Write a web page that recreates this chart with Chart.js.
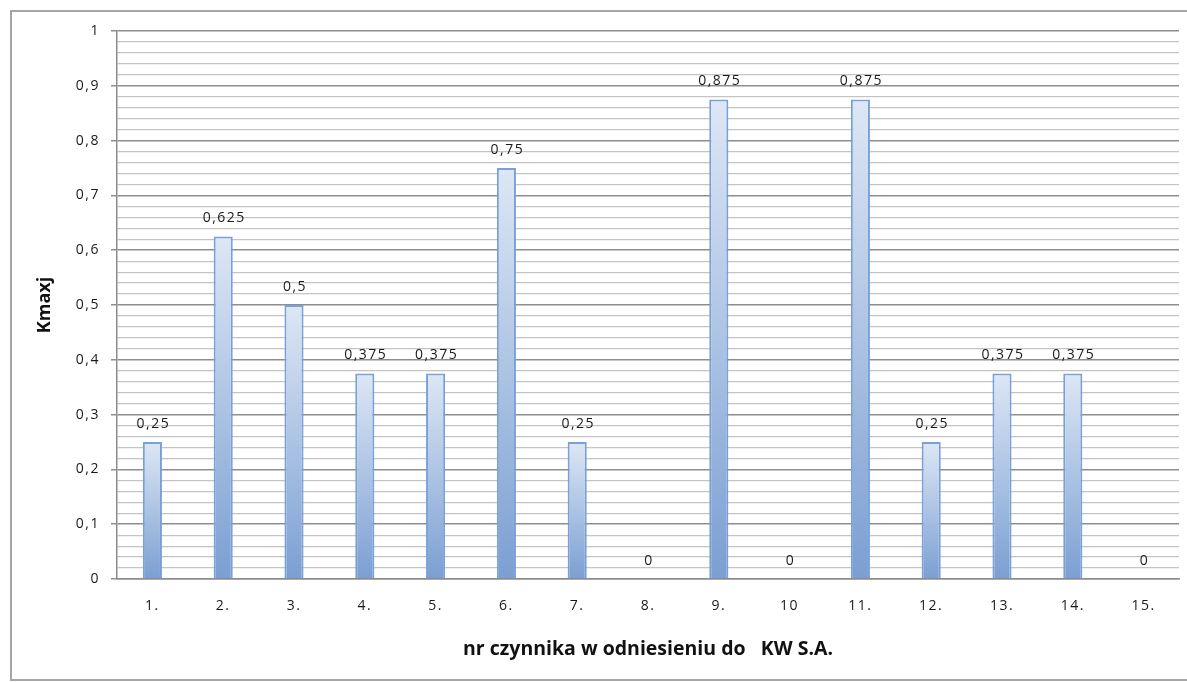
<!DOCTYPE html>
<html>
<head>
<meta charset="utf-8">
<title>Kmaxj</title>
<script src="https://cdn.jsdelivr.net/npm/chart.js@4/dist/chart.umd.min.js"></script>
<style>
  html, body { margin: 0; padding: 0; background: #ffffff; }
  #wrap { position: relative; width: 1187px; height: 682px; }
</style>
</head>
<body>
<div id="wrap"><canvas id="chart" width="1187" height="682"></canvas></div>
<script>
// Factor numbers along the x axis
const categories = ['1.', '2.', '3.', '4.', '5.', '6.', '7.', '8.', '9.', '10', '11.', '12.', '13.', '14.', '15.'];
// Kmaxj value for each factor
const kmaxValues = [0.25, 0.625, 0.5, 0.375, 0.375, 0.75, 0.25, 0, 0.875, 0, 0.875, 0.25, 0.375, 0.375, 0];
// Labels for the major y ticks (every 0.1)
const yTickLabels = ['0', '0,1', '0,2', '0,3', '0,4', '0,5', '0,6', '0,7', '0,8', '0,9', '1'];

const fontFamily = "'Open Sans', 'Liberation Sans', Arial, sans-serif";
const isMajor = v => Math.round(v * 100) % 10 === 0;

// White background and the frame around the chart; axis titles use normal spacing
const framePlugin = {
  id: 'frame',
  beforeDraw(chart) {
    const c = chart.ctx;
    c.save();
    c.fillStyle = '#ffffff';
    c.fillRect(0, 0, chart.width, chart.height);
    c.strokeStyle = '#a6a6a6';
    c.lineWidth = 2;
    c.strokeRect(11, 11, chart.width + 20, chart.height - 13);
    c.restore();
    c.letterSpacing = '0px';
  }
};

// Value written above every bar, decimal comma; tick labels drawn afterwards share the looser spacing
const valueLabelPlugin = {
  id: 'valueLabels',
  afterDatasetsDraw(chart) {
    const c = chart.ctx;
    const meta = chart.getDatasetMeta(0);
    c.save();
    c.font = '14px ' + fontFamily;
    c.letterSpacing = '1.5px';
    c.fillStyle = '#1a1a1a';
    c.textAlign = 'center';
    c.textBaseline = 'middle';
    meta.data.forEach((bar, i) => {
      const txt = String(kmaxValues[i]).replace('.', ',');
      c.fillText(txt, bar.x + 1, bar.y - 18);
    });
    c.restore();
    c.letterSpacing = '1.5px';
  }
};

const barFill = (ctx) => {
  const chart = ctx.chart;
  const area = chart.chartArea;
  if (!area || ctx.raw === undefined) return '#b4c8e6';
  const y = chart.scales.y;
  const top = y.getPixelForValue(ctx.raw);
  const bottom = y.getPixelForValue(0);
  if (bottom - top < 1) return '#b4c8e6';
  const g = chart.ctx.createLinearGradient(0, top, 0, bottom);
  g.addColorStop(0, '#dde7f5');
  g.addColorStop(1, '#7b9fd2');
  return g;
};

new Chart(document.getElementById('chart'), {
  type: 'bar',
  data: {
    labels: categories,
    datasets: [{
      data: kmaxValues,
      backgroundColor: barFill,
      borderColor: '#79a0d8',
      borderWidth: 2,
      borderSkipped: 'bottom',
      barPercentage: 0.27,
      categoryPercentage: 1
    }]
  },
  options: {
    responsive: false,
    animation: false,
    layout: { padding: { left: 0, top: 31, right: 8, bottom: 0 } },
    plugins: {
      legend: { display: false },
      tooltip: { enabled: false }
    },
    scales: {
      x: {
        grid: { display: false, drawTicks: false },
        border: { display: true, color: '#8c8c8c', width: 1.5 },
        ticks: {
          z: 1,
          color: '#1a1a1a',
          font: { family: fontFamily, size: 14 },
          padding: 19,
          autoSkip: false,
          maxRotation: 0
        },
        title: {
          display: true,
          text: 'nr czynnika w odniesieniu do   KW S.A.',
          color: '#111111',
          font: { family: fontFamily, size: 19.5, weight: 'bold' },
          padding: { top: 0, bottom: 21 }
        },
        afterFit: s => { s.height = 103; }
      },
      y: {
        min: 0,
        max: 1,
        ticks: {
          z: 1,
          stepSize: 0.02,
          autoSkip: false,
          padding: 11,
          color: '#1a1a1a',
          font: { family: fontFamily, size: 14 },
          callback: (v, i) => (i % 5 === 0 ? yTickLabels[i / 5] : '')
        },
        grid: {
          color: ctx => (ctx.tick && isMajor(ctx.tick.value) ? '#8e8e8e' : '#c4c4c4'),
          lineWidth: ctx => (ctx.tick && isMajor(ctx.tick.value) ? 1.5 : 1.2),
          tickColor: ctx => (ctx.tick && isMajor(ctx.tick.value) ? '#8e8e8e' : 'rgba(0,0,0,0)'),
          tickLength: 6
        },
        border: { display: true, color: '#8c8c8c', width: 1.5 },
        title: {
          display: true,
          text: 'Kmaxj',
          color: '#111111',
          font: { family: fontFamily, size: 18, weight: 'bold' },
          padding: { top: 34, bottom: 0 }
        },
        afterFit: s => { s.width = 117; }
      }
    }
  },
  plugins: [framePlugin, valueLabelPlugin]
});
</script>
</body>
</html>
